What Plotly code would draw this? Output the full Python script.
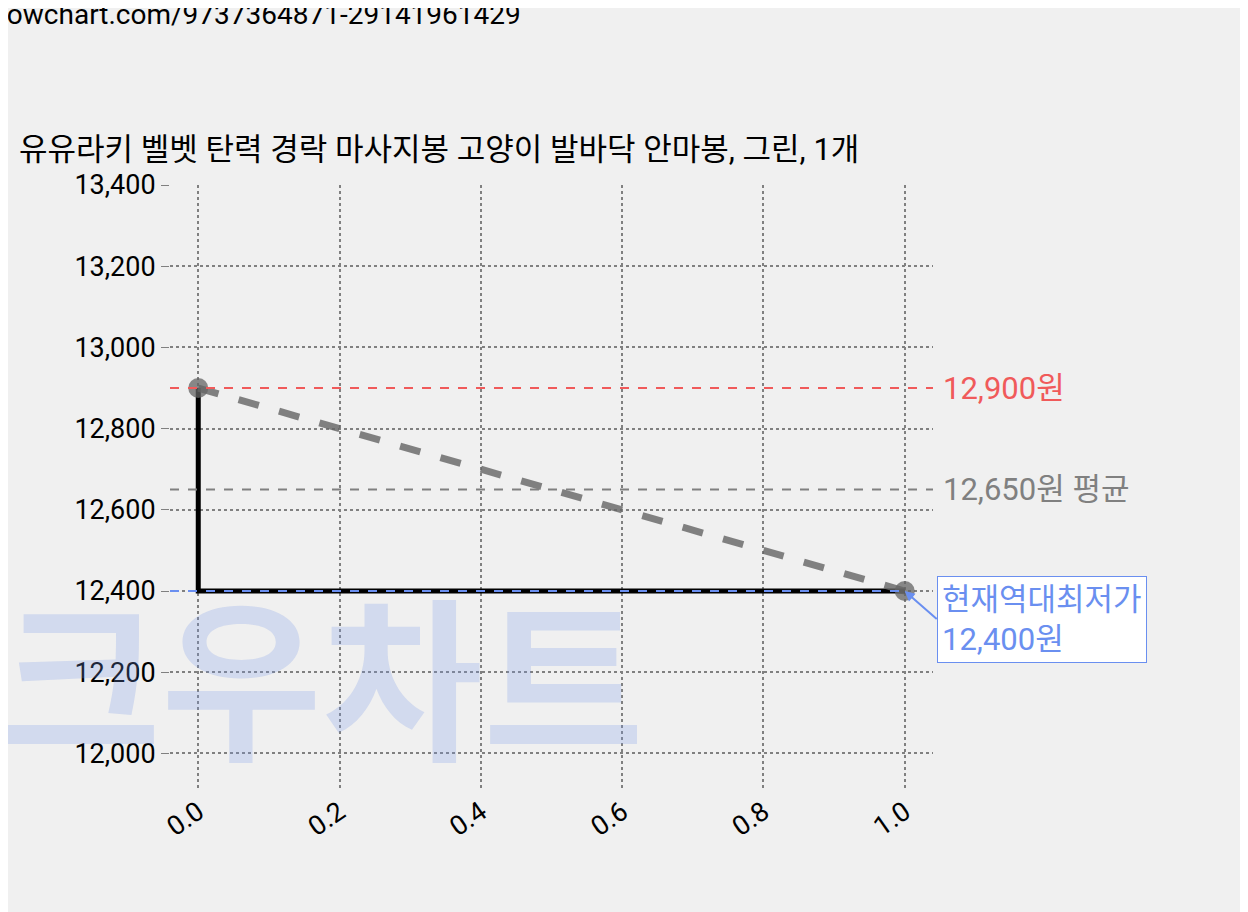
import plotly.graph_objects as go

x_pts = [0.0, 1.0]
prices = [12900, 12400]
step_x = [0.0, 0.0, 1.0]
step_y = [12900, 12400, 12400]
max_price = 12900
avg_price = 12650
min_price = 12400
title = "유유라키 벨벳 탄력 경락 마사지봉 고양이 발바닥 안마봉, 그린, 1개"
url = "lowchart.com/9737364871-29141961429"

F = "Roboto, Noto Sans CJK KR"
fig = go.Figure()
fig.add_annotation(xref="paper", yref="paper", x=-0.225, y=0.17, text="<b>크우차트</b>", showarrow=False,
                   xanchor="left", yanchor="middle", font=dict(size=175, color="rgba(120,150,230,0.25)", family=F))
fig.add_trace(go.Scatter(x=step_x, y=step_y, mode="lines",
                         line=dict(color="black", width=5), showlegend=False))
fig.add_trace(go.Scatter(x=x_pts, y=prices, mode="lines+markers",
                         line=dict(color="rgba(100,100,100,0.8)", width=7, dash="dash"),
                         marker=dict(size=20, color="rgba(100,100,100,0.75)"), showlegend=False))
fig.add_shape(type="line", xref="paper", x0=0, x1=1, y0=max_price, y1=max_price,
              line=dict(color="#f05a5a", width=2, dash="dash"))
fig.add_shape(type="line", xref="paper", x0=0, x1=1, y0=avg_price, y1=avg_price,
              line=dict(color="gray", width=2, dash="dash"))
fig.add_shape(type="line", x0=-0.04, x1=1.0, y0=min_price, y1=min_price,
              line=dict(color="#6a8ff0", width=2, dash="dash"))
fig.add_annotation(xref="paper", x=1.01, y=max_price, text=f"{max_price:,}원", showarrow=False,
                   xanchor="left", font=dict(size=31, color="#f05a5a", family=F))
fig.add_annotation(xref="paper", x=1.01, y=avg_price, text=f"{avg_price:,}원 평균", showarrow=False,
                   xanchor="left", font=dict(size=31, color="gray", family=F))
fig.add_annotation(x=1.0, y=min_price, text=f"현재역대최저가<br>{min_price:,}원", showarrow=True,
                   ax=32, ay=28, axref="pixel", xanchor="left", yanchor="middle", align="left",
                   arrowcolor="#6a8ff0", arrowwidth=2, arrowhead=2,
                   bgcolor="white", bordercolor="#6a8ff0", borderpad=4,
                   font=dict(size=31, color="#6a8ff0", family=F))
fig.add_annotation(xref="paper", yref="paper", x=-0.2, y=1.058, text=title, showarrow=False,
                   xanchor="left", yanchor="middle", font=dict(size=31, color="black", family=F))
fig.add_annotation(xref="paper", yref="paper", x=-0.225, y=1.282, text=url, showarrow=False,
                   xanchor="left", yanchor="middle", font=dict(size=28, color="black", family=F))
grid = dict(showgrid=True, gridcolor="gray", griddash="dot", gridwidth=2, zeroline=False,
            showline=False)
fig.update_layout(width=1240, height=904, paper_bgcolor="#f0f0f0", plot_bgcolor="#f0f0f0",
                  margin=dict(l=162, r=315, t=177, b=122), font=dict(family=F, size=27, color="black"),
                  xaxis=dict(range=[-0.04, 1.04], tickvals=[0, 0.2, 0.4, 0.6, 0.8, 1.0],
                             ticktext=["0.0", "0.2", "0.4", "0.6", "0.8", "1.0"], tickangle=-35, **grid),
                  yaxis=dict(range=[11910, 13400], tickvals=list(range(12000, 13401, 200)),
                             tickformat=",", ticks="outside", ticklen=8, tickcolor="gray", **grid))
fig.write_html("out.html")
